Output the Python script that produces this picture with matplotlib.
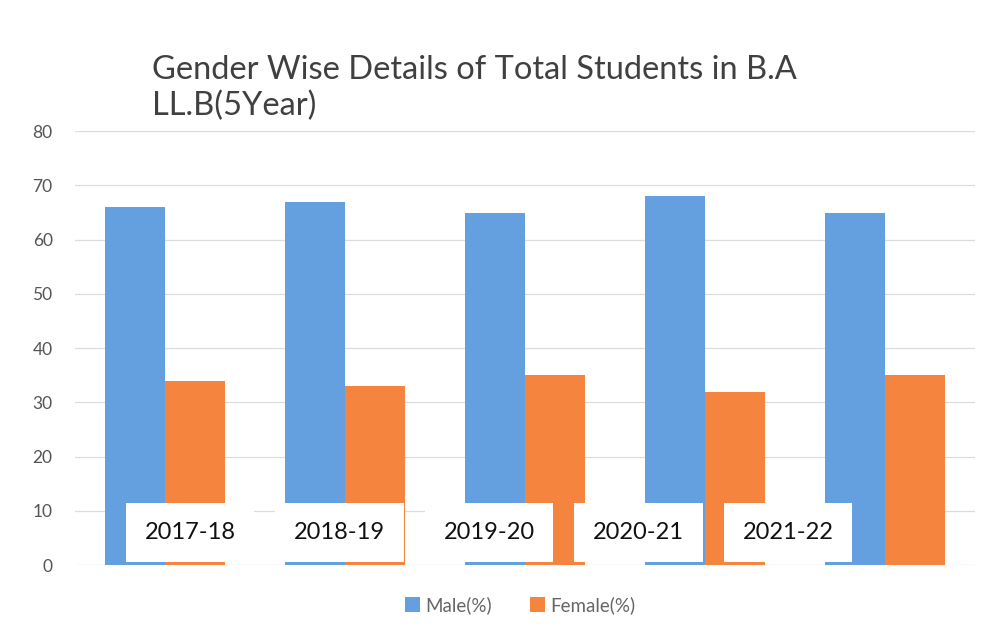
import numpy as np
import matplotlib
matplotlib.use("Agg")
import matplotlib.pyplot as plt

years = ["2017-18", "2018-19", "2019-20", "2020-21", "2021-22"]
male = [66, 67, 65, 68, 65]
female = [34, 33, 35, 32, 35]
yticks = [0, 10, 20, 30, 40, 50, 60, 70, 80]

BLUE = "#649FE0"
ORANGE = "#F5843F"

plt.rcParams["font.family"] = ["Lato", "DejaVu Sans"]

fig = plt.figure(figsize=(9.85, 6.37), dpi=100)
ax = fig.add_axes([0.076, 0.113, 0.914, 0.681])

x = np.arange(len(years))
w = 1 / 3
ax.bar(x - w / 2, male, w, color=BLUE, label="Male(%)", zorder=2)
ax.bar(x + w / 2, female, w, color=ORANGE, label="Female(%)", zorder=2)

ax.set_xlim(-0.5, len(years) - 0.5)
ax.set_ylim(0, 80)
ax.set_yticks(yticks)
ax.set_yticklabels([str(t) for t in yticks], fontsize=12.5, color="#555555")
ax.yaxis.grid(True, color="#dcdcdc", lw=0.9, zorder=0)
ax.tick_params(axis="y", length=0, pad=16)
ax.set_xticks([])
for s in ax.spines.values():
    s.set_visible(False)

# category labels sit in white boxes, spread a little narrower than the groups
for i, yr in enumerate(years):
    ax.text(0.128 + i * 0.166, 0.075, yr, transform=ax.transAxes,
            ha="center", va="center", fontsize=17, color="#111111", zorder=5,
            bbox=dict(boxstyle="square,pad=0.8", fc="white", ec="none"))

fig.text(0.154, 0.862, "Gender Wise Details of Total Students in B.A\nLL.B(5Year)",
         ha="left", va="center", fontsize=23.5, color="#404040", linespacing=1.22)

fig.legend(loc="center", bbox_to_anchor=(0.528, 0.05), ncol=2, frameon=False,
           fontsize=13.5, labelcolor="#666666", handlelength=0.8, handleheight=0.8,
           handletextpad=0.3, columnspacing=2.0)

fig.savefig("out.png", dpi=100, facecolor="white")
